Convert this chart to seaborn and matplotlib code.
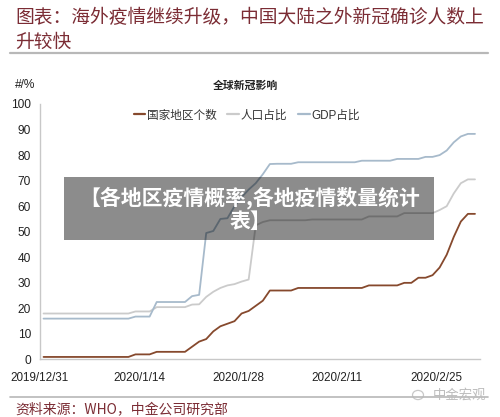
import numpy as np
import pandas as pd
import matplotlib
matplotlib.use("Agg")
import matplotlib.pyplot as plt
from matplotlib.patches import Rectangle, Circle
from matplotlib.lines import Line2D
import seaborn as sns

# ---- data -------------------------------------------------------------
start_date = "2019-12-31"
n_days = 62

countries = ([1] * 13 + [2] * 3 + [3] * 5 +
             [5, 7, 8, 11, 13, 14, 15, 18, 19, 21, 23] +
             [27] * 4 + [28] * 10 + [29] * 5 + [30] * 2 + [32] * 2 +
             [33, 36, 41, 48, 54, 57, 57])

population_share = ([18.0] * 13 + [18.8] * 3 + [20.5] * 5 +
                    [21.5, 21.6, 24.5, 26.5, 28.0, 29.0, 29.5, 30.5, 31.3, 52.5, 53.8] +
                    [54.5] * 6 + [54.8] * 8 + [56.0] * 5 + [57.3] * 5 +
                    [58.5, 60.0, 65.0, 69.0, 70.5, 70.5])

gdp_share = ([16.0] * 13 + [16.8] * 3 + [22.5] * 5 +
             [24.8, 25.3, 49.5, 50.3, 55.0, 55.3, 60.0, 63.5, 66.5, 69.0, 72.5, 76.5] +
             [76.6] * 3 + [77.2] * 9 + [77.8] * 5 + [78.5] * 4 + [79.3] * 2 +
             [80.0, 81.8, 85.0, 87.3, 88.3, 88.3])

series_names = ["国家地区个数", "人口占比", "GDP占比"]
series_colors = ["#86492d", "#cbcbcb", "#a7bacb"]

tick_labels = ["2019/12/31", "2020/1/14", "2020/1/28", "2020/2/11", "2020/2/25"]
y_ticks = [0, 10, 20, 30, 40, 50, 60, 70, 80, 90, 100]

title_text = "图表：海外疫情继续升级，中国大陆之外新冠确诊人数上\n升较快"
chart_title = "全球新冠影响"
unit_label = "#/%"
source_text = "资料来源：WHO，中金公司研究部"
watermark_text = "中金宏观"
banner_text = "【各地区疫情概率,各地疫情数量统计\n表】"

# ---- long-form table ----------------------------------------------------
dates = pd.date_range(start_date, periods=n_days, freq="D")
# daily values sit in the middle of each day's slot
x_pos = dates + pd.Timedelta(hours=12)
df = pd.concat([
    pd.DataFrame({"date": x_pos, "value": vals, "series": name})
    for name, vals in zip(series_names, [countries, population_share, gdp_share])
], ignore_index=True)

# ---- style --------------------------------------------------------------
sns.set_style("white")
plt.rcParams["font.family"] = ["Liberation Sans", "Noto Sans CJK SC", "DejaVu Sans"]
cjk = ["Noto Sans CJK SC", "DejaVu Sans"]

fig = plt.figure(figsize=(5.0, 4.17), dpi=100)
ax = fig.add_axes([0.08, 0.1379, 0.88, 0.6127])

sns.lineplot(data=df, x="date", y="value", hue="series",
             hue_order=series_names, palette=series_colors,
             linewidth=1.3, ax=ax, legend=False)

ax.set_ylim(0, 100)
ax.set_xlim(pd.Timestamp(start_date), pd.Timestamp("2020-03-02 05:00"))
ax.set_yticks(y_ticks)
ax.set_yticklabels([str(v) for v in y_ticks], fontsize=8.6, color="#222222")
tick_dates = [pd.Timestamp(s.replace("/", "-")) for s in tick_labels]
ax.set_xticks(tick_dates)
ax.set_xticklabels(tick_labels, fontsize=8.4, color="#222222")
ax.set_xlabel("")
ax.set_ylabel("")

for side in ["top", "right"]:
    ax.spines[side].set_visible(False)
for side in ["left", "bottom"]:
    ax.spines[side].set_color("#c8c8c8")
    ax.spines[side].set_linewidth(1.0)
ax.tick_params(axis="y", length=3, width=0.8, color="#c0c0c0", pad=3.5)
ax.tick_params(axis="x", length=4, width=0.8, color="#c0c0c0", pad=5)
ax.grid(False)

# legend across the top of the plot
handles = [Line2D([0], [0], color=c, lw=1.6) for c in series_colors]
leg = ax.legend(handles, series_names, loc="center", bbox_to_anchor=(0.47, 0.955),
                ncol=3, frameon=False, fontsize=8.4, handlelength=1.0,
                handletextpad=0.15, columnspacing=0.9)
for t in leg.get_texts():
    t.set_color("#333333")

# ---- page furniture ------------------------------------------------------
maroon = "#7b2c34"
fig.text(0.03, 1 - 7 / 417, title_text, ha="left", va="top", fontsize=13.5,
         color=maroon, family=cjk, linespacing=1.22)
fig.add_artist(Line2D([10 / 500, 488 / 500], [1 - 53 / 417, 1 - 53 / 417],
                      color="#b8b8b8", lw=1.6))

fig.text(25 / 500, 1 - 85 / 417, unit_label, ha="center", va="center",
         fontsize=8.6, color="#222222")
fig.text(245 / 500, 1 - 86 / 417, chart_title, ha="center", va="center",
         fontsize=7.8, fontweight="bold", color="#222222", family=cjk)

fig.add_artist(Line2D([10 / 500, 488 / 500], [1 - 397 / 417, 1 - 397 / 417],
                      color="#b8b8b8", lw=1.2))
fig.text(15 / 500, 1 - 410 / 417, source_text, ha="left", va="center",
         fontsize=10.0, color=maroon, family=cjk)
fig.add_artist(Circle((418 / 500, 1 - 395 / 417), 0.011, transform=fig.transFigure,
                      fill=False, ec="#c8c8c8", lw=0.9))
fig.text(460 / 500, 1 - 394 / 417, watermark_text, ha="center", va="center",
         fontsize=9.6, color="#bdbdbd", family=cjk)

# translucent banner across the middle of the chart
fig.add_artist(Rectangle((64 / 500, 1 - 240 / 417), 370 / 500, 63 / 417,
                         transform=fig.transFigure, facecolor="black",
                         alpha=0.45, edgecolor="none", zorder=10))
fig.text(250 / 500, 1 - 209 / 417, banner_text, ha="center", va="center",
         fontsize=15.0, fontweight="bold", color="white", linespacing=1.15,
         family=cjk, zorder=11)

fig.savefig("out.png", dpi=100)
